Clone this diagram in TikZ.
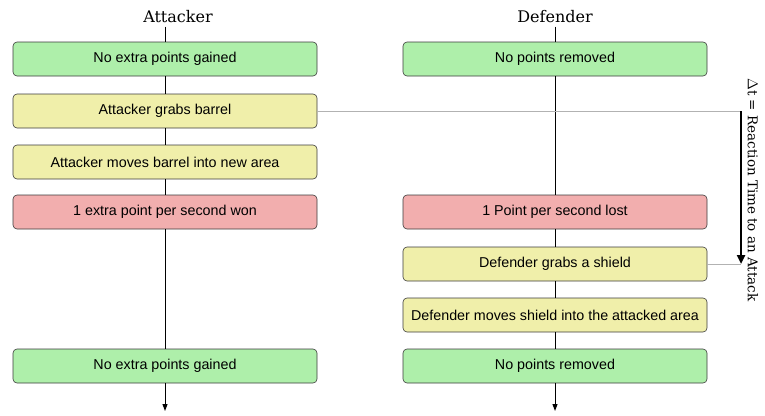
\documentclass[tikz,border=0pt]{standalone}
\usepackage{fontspec}
\setmainfont{DejaVu Serif}
\newfontfamily\boxfont{Liberation Sans}
\usetikzlibrary{arrows.meta}
\definecolor{gainfill}{RGB}{174,239,170}
\definecolor{actfill}{RGB}{240,239,170}
\definecolor{lossfill}{RGB}{242,174,174}
\definecolor{edgegray}{RGB}{60,60,60}
\tikzset{
  evt/.style={draw=edgegray, line width=0.6pt, rounded corners=4pt,
    minimum width=304pt, minimum height=34pt, inner sep=0pt,
    font=\boxfont\fontsize{14.3}{16}\selectfont},
  gain/.style={evt, fill=gainfill},
  act/.style={evt, fill=actfill},
  loss/.style={evt, fill=lossfill},
  link/.style={line width=1pt},
  timeline/.style={link, -{Triangle[length=7pt,width=5pt]}},
  head/.style={font=\fontsize{16}{18}\selectfont},
  guide/.style={draw=gray!60, line width=0.9pt},
}
\begin{document}
\begin{tikzpicture}[x=1pt,y=-1pt]
\useasboundingbox (0,0) rectangle (765,415);

% column headings
\node[head] (ta) at (178,17) {Attacker};
\node[head] (td) at (555,17) {Defender};

% attacker events
\node[gain] (a1) at (165,59)  {No extra points gained};
\node[act]  (a2) at (165,111) {Attacker grabs barrel};
\node[act]  (a3) at (165,162) {Attacker moves barrel into new area};
\node[loss] (a4) at (165,212) {1 extra point per second won};
\node[gain] (a5) at (165,366) {No extra points gained};
\coordinate (aend) at (165,411);

% defender events
\node[gain] (d1) at (555,59)  {No points removed};
\node[loss] (d2) at (555,212) {1 Point per second lost};
\node[act]  (d3) at (555,264) {Defender grabs a shield};
\node[act]  (d4) at (555,315) {Defender moves shield into the attacked area};
\node[gain] (d5) at (555,366) {No points removed};
\coordinate (dend) at (555,411);

% time lines
\draw[link] (a1.north |- ta.south) -- (a1.north);
\draw[link] (a1.south) -- (a2.north);
\draw[link] (a2.south) -- (a3.north);
\draw[link] (a3.south) -- (a4.north);
\draw[link] (a4.south) -- (a5.north);
\draw[timeline] (a5.south) -- (aend);

\draw[link] (d1.north |- td.south) -- (d1.north);
\draw[link] (d1.south) -- (d2.north);
\draw[link] (d2.south) -- (d3.north);
\draw[link] (d3.south) -- (d4.north);
\draw[link] (d4.south) -- (d5.north);
\draw[timeline] (d5.south) -- (dend);

% reaction time span
\coordinate (rt) at (741,111);
\coordinate (rb) at (741,264);
\draw[guide] (a2.east) -- (rt);
\draw[guide] (d3.east) -- (rb);
\draw[line width=2.6pt, -{Triangle[length=9pt,width=8pt]}] (rt) -- (rb);
\node[rotate=-90, font=\fontsize{13.5}{16}\selectfont] (lbl) at (753,190)
  {$\Delta$t = Reaction Time to an Attack};
\end{tikzpicture}
\end{document}
